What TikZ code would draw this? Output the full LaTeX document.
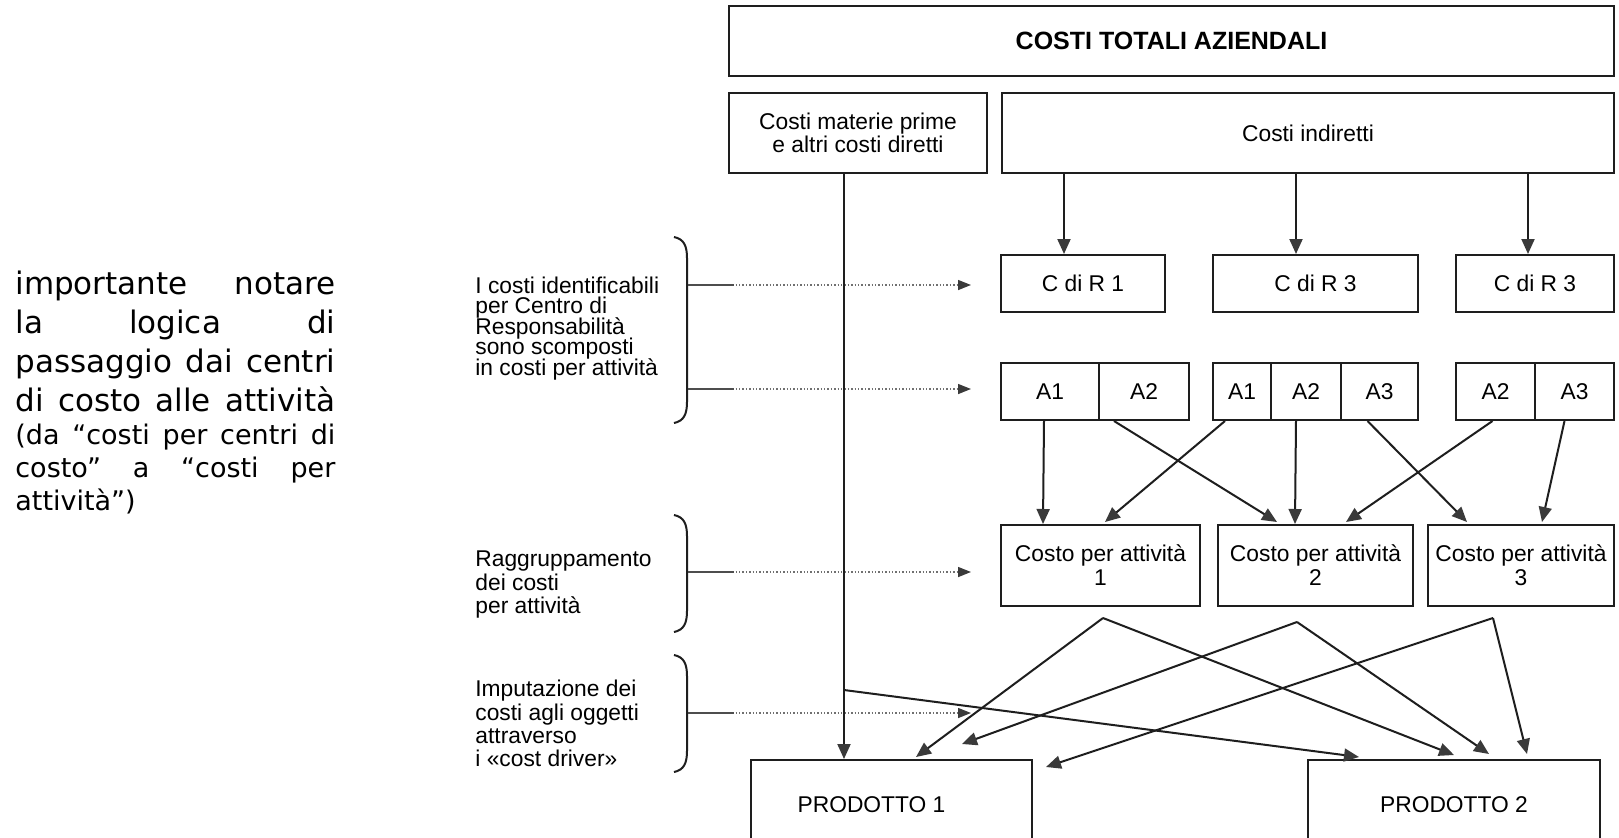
\documentclass[tikz,border=0pt]{standalone}
\usepackage{fontspec}
\setmainfont{Liberation Sans}
\newfontfamily\notefont{DejaVu Sans}
\usetikzlibrary{arrows.meta,calc}

\definecolor{ink}{HTML}{1E1E1E}
\definecolor{tipgray}{HTML}{3A3A3A}
\definecolor{dotgray}{HTML}{707070}

\tikzset{
  box/.style={draw=ink, line width=1pt, rectangle, inner sep=0pt, align=center,
    font=\fontsize{11.4}{12}\selectfont},
  flow/.style={draw=ink, line width=1pt,
    -{Triangle[length=7.5pt,width=6.5pt,fill=tipgray,color=tipgray]}},
  guide/.style={draw=dotgray, line width=0.7pt, densely dotted,
    -{Triangle[length=6.5pt,width=5pt,fill=tipgray,color=tipgray]}},
  guidelead/.style={draw=dotgray!70!black, line width=0.8pt},
  bracket/.style={draw=ink, line width=1pt},
  steplabel/.style={anchor=base west, inner sep=0pt, font=\fontsize{11.4}{12}\selectfont},
  bignote/.style={anchor=base west, inner sep=0pt, font=\notefont\fontsize{15.5}{19}\selectfont},
  smallnote/.style={anchor=base west, inner sep=0pt, font=\notefont\fontsize{13.5}{16}\selectfont},
}

\begin{document}
\begin{tikzpicture}[x=0.5pt,y=-0.5pt]
\clip (0,0) rectangle (1619,837);
\fill[white] (0,0) rectangle (1619,837);

% ---- commentary on the left
\foreach \yb/\txt [count=\i] in {294/importante notare, 333/la logica di,
    372/passaggio dai centri, 411/di costo alle attività}
  \node[bignote] (note\i) at (15,\yb) {\makebox[160pt][s]{\txt}};
\foreach \yb/\txt [count=\i] in {444/(da “costi per centri di, 477/costo” a “costi per}
  \node[smallnote] (aside\i) at (15,\yb) {\makebox[160pt][s]{\txt}};
\node[smallnote] (aside3) at (15,510) {attività”)};

% ---- cost structure
\node[box, minimum width=442.5pt, minimum height=35pt,
      font=\fontsize{12.5}{14}\selectfont\bfseries] (tot) at (1171.5,41) {COSTI TOTALI AZIENDALI};
\node[box, minimum width=129pt, minimum height=40pt, font=\fontsize{11.4}{11.5}\selectfont]
  (mat) at (858,133) {Costi materie prime\\e altri costi diretti};
\node[box, minimum width=306pt, minimum height=40pt] (ind) at (1308,133) {Costi indiretti};

% responsibility centres
\node[box, minimum width=82pt,  minimum height=28.5pt] (cdr1) at (1083,283.5)   {C di R 1};
\node[box, minimum width=102.5pt, minimum height=28.5pt] (cdr2) at (1315.5,283.5) {C di R 3};
\node[box, minimum width=79pt,  minimum height=28.5pt] (cdr3) at (1535,283.5)   {C di R 3};

% activities
\node[box, minimum width=49pt,   minimum height=28.5pt] (a11) at (1050,391.5)   {A1};
\node[box, minimum width=45pt,   minimum height=28.5pt] (a12) at (1144,391.5)   {A2};
\node[box, minimum width=29pt,   minimum height=28.5pt] (a21) at (1242,391.5)   {A1};
\node[box, minimum width=35pt,   minimum height=28.5pt] (a22) at (1306,391.5)   {A2};
\node[box, minimum width=38.5pt, minimum height=28.5pt] (a23) at (1379.5,391.5) {A3};
\node[box, minimum width=39.5pt, minimum height=28.5pt] (a32) at (1495.5,391.5) {A2};
\node[box, minimum width=39.5pt, minimum height=28.5pt] (a33) at (1574.5,391.5) {A3};

% activity cost pools
\node[box, minimum width=99.5pt, minimum height=40.5pt] (c1) at (1100.5,565.5) {Costo per attività\\1};
\node[box, minimum width=97.5pt, minimum height=40.5pt] (c2) at (1315.5,565.5) {Costo per attività\\2};
\node[box, minimum width=93pt,   minimum height=40.5pt] (c3) at (1521,565.5)   {Costo per attività\\3};

% products
\node[box, minimum width=140.5pt, minimum height=45pt] (p1) at (891.5,805) {PRODOTTO 1\hspace{20pt}};
\node[box, minimum width=146pt,   minimum height=45pt] (p2) at (1454,805)  {PRODOTTO 2};

% ---- step labels with brackets
\foreach \yb/\txt [count=\i] in {293/I costi identificabili, 313.5/per Centro di,
    334/Responsabilità, 354.5/sono scomposti, 375/in costi per attività}
  \node[steplabel] (lbA\i) at (475,\yb) {\txt};
\foreach \yb/\txt [count=\i] in {566/Raggruppamento, 590/dei costi, 613/per attività}
  \node[steplabel] (lbB\i) at (475,\yb) {\txt};
\foreach \yb/\txt [count=\i] in {696/Imputazione dei, 720/costi agli oggetti,
    743/attraverso, 766/i «cost driver»}
  \node[steplabel] (lbC\i) at (475,\yb) {\txt};

\foreach \top/\bot in {237/423, 515/632, 655/772}
  \draw[bracket] (674,\top) .. controls (684,\top+2) and (687,\top+9) .. (687,\top+21)
    -- (687,\bot-21) .. controls (687,\bot-9) and (684,\bot-2) .. (674,\bot);

% dotted guides from the brackets
\foreach \yg [count=\i] in {285, 389, 572, 713} {
  \coordinate (g\i s) at (688,\yg);
  \coordinate (g\i e) at (971,\yg);
  \draw[guide] (g\i s) -- (g\i e);
  \draw[guidelead] (g\i s) -- ++(46,0);
}

% ---- flows
% direct costs straight to product 1
\draw[flow] ($(mat.south west)+(116,0)$) -- ($(p1.north west)+(94,0)$);
\coordinate (br) at ($(mat.south west)+(116,516)$);
\draw[flow] (br) -- ($(p2.north west)+(52,-2)$);

% indirect costs to responsibility centres
\draw[flow] ($(ind.south west)+(63,0)$)  -- ($(cdr1.north west)+(64,0)$);
\draw[flow] ($(ind.south west)+(295,0)$) -- ($(cdr2.north west)+(84,0)$);
\draw[flow] ($(ind.south west)+(527,0)$) -- ($(cdr3.north west)+(73,0)$);

% activities to activity cost pools
\draw[flow] ($(a11.south)+(-6,0)$)  -- ($(c1.north west)+(43,0)$);
\draw[flow] ($(a12.south)+(-30,0)$) -- ($(c2.north west)+(60,-2)$);
\draw[flow] ($(a21.south)+(-17,0)$) -- ($(c1.north west)+(105,-2)$);
\draw[flow] ($(a22.south)+(-10,0)$) -- ($(c2.north west)+(78,0)$);
\draw[flow] ($(a23.south)+(-12,0)$) -- ($(c3.north west)+(40,-2)$);
\draw[flow] ($(a32.south)+(-3,0)$)  -- ($(c2.north west)+(129,-2)$);
\draw[flow] ($(a33.south)+(-10,0)$) -- ($(c3.north west)+(115,-2)$);

% cost drivers to products
\coordinate (ap1) at ($(c1.south)+(2.5,11)$);
\coordinate (ap2) at ($(c2.south)+(-18.5,15)$);
\coordinate (ap3) at ($(c3.south)+(-28,11)$);
\coordinate (e2) at ($(p1.north west)+(212,-15)$);
\coordinate (e3) at ($(p1.north east)+(13,8)$);
\draw[flow] (ap1) -- ($(p1.north west)+(166,-2)$);
\draw[flow] (ap1) -- ($(p2.north west)+(147,-4)$);
\draw[flow] (ap2) -- (e2);
\draw[flow] (ap2) -- ($(p2.north west)+(182,-5)$);
\draw[flow] (ap3) -- (e3);
\draw[flow] (ap3) -- ($(p2.north west)+(220,-5)$);
\end{tikzpicture}
\end{document}
